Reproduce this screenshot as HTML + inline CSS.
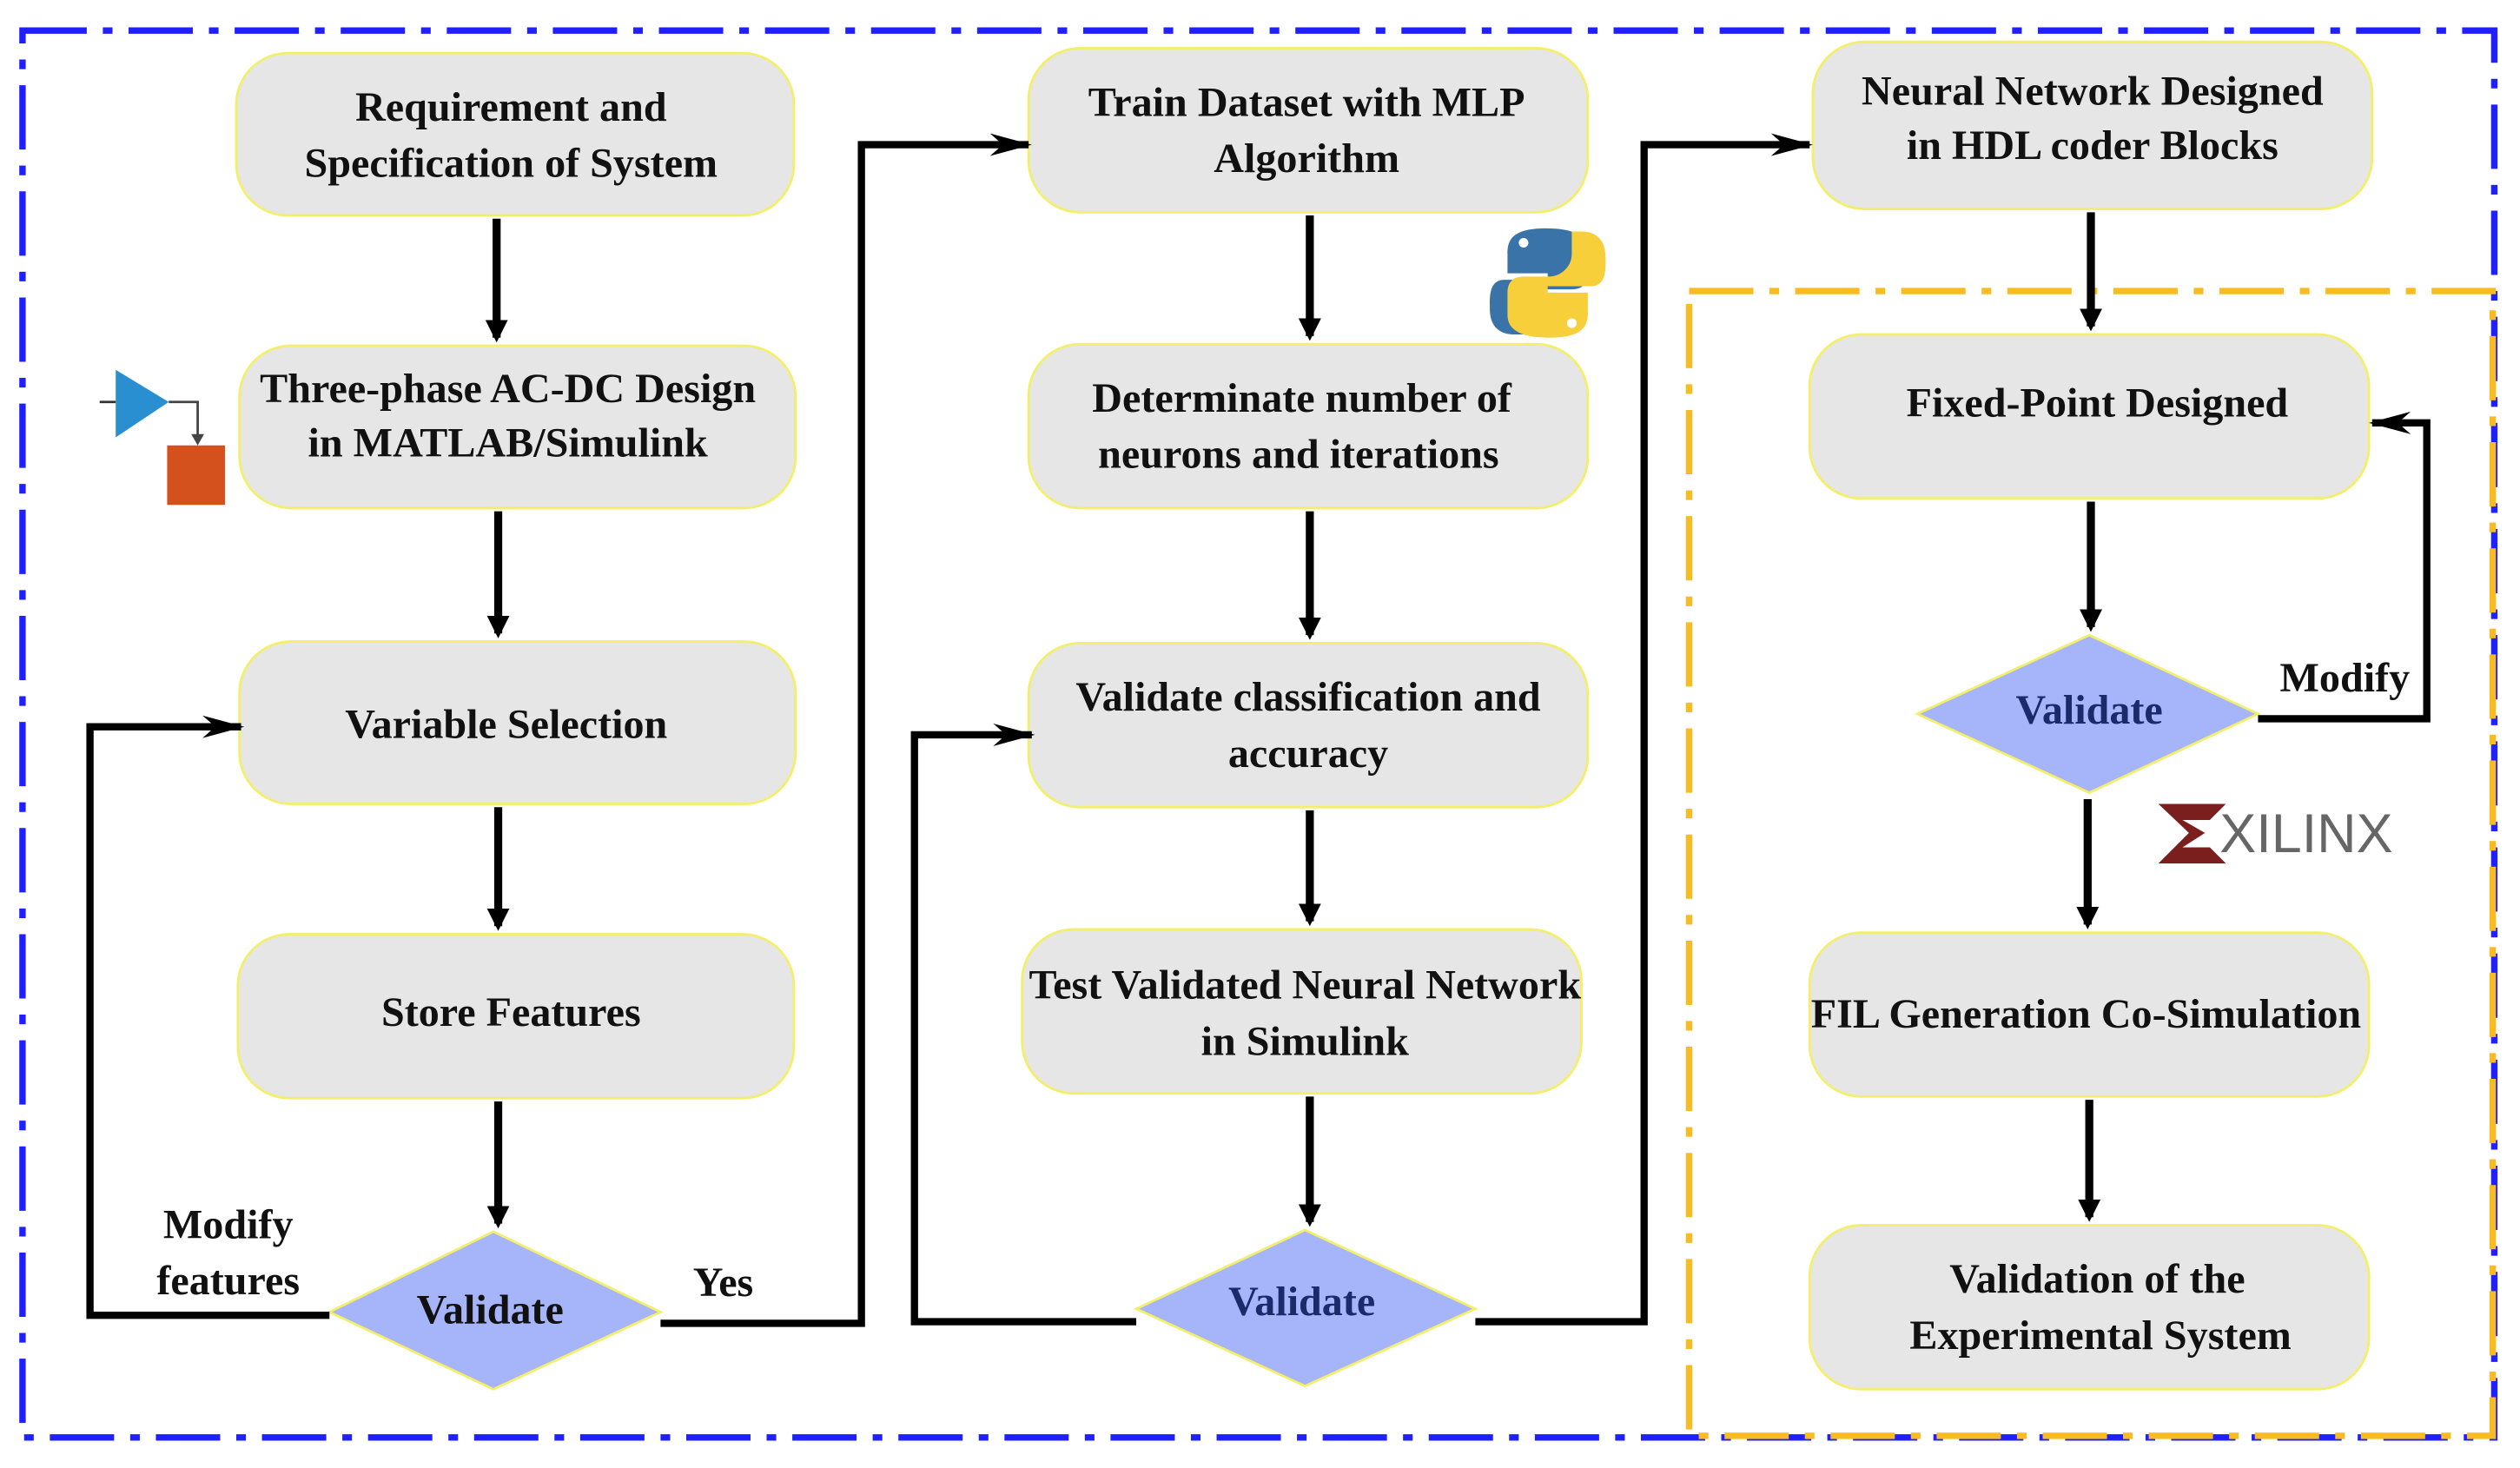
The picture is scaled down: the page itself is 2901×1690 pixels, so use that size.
<!DOCTYPE html>
<html><head><meta charset="utf-8"><style>
html,body{margin:0;padding:0;background:#fff;}
svg{display:block;}
text{font-family:"Liberation Serif","Times New Roman",serif;font-weight:bold;font-size:26px;fill:#111;text-anchor:middle;}
</style></head><body>
<svg width="2901" height="1690" viewBox="0 0 1568 913" preserveAspectRatio="none" xmlns="http://www.w3.org/2000/svg">
<defs>
<marker id="ah" markerWidth="14" markerHeight="14" refX="11" refY="7" orient="auto" markerUnits="userSpaceOnUse">
<path d="M0,0 L14,7 L0,14 z" fill="#000"/></marker>
<marker id="ah2" markerWidth="26" markerHeight="14" refX="24" refY="7" orient="auto" markerUnits="userSpaceOnUse">
<path d="M0,0 L26,7 L0,14 L8,7 z" fill="#000"/></marker>
</defs>
<rect width="1568" height="913" fill="#fff"/>
<rect x="14" y="19" width="1538" height="875" fill="none" stroke="#1f1fff" stroke-width="4" stroke-dasharray="40,10,6,10"/>
<rect x="1051" y="181" width="500" height="712" fill="none" stroke="#f8bb22" stroke-width="4" stroke-dasharray="40,10,6,10"/>

<g fill="#e6e6e6" stroke="#f4ef6a" stroke-width="1.5">
<rect x="147" y="33" width="347" height="101" rx="32"/>
<rect x="149" y="215" width="346" height="101" rx="32"/>
<rect x="149" y="399" width="346" height="101" rx="32"/>
<rect x="148" y="581" width="346" height="102" rx="32"/>
<rect x="640" y="30" width="348" height="102" rx="32"/>
<rect x="640" y="214" width="348" height="102" rx="32"/>
<rect x="640" y="400" width="348" height="102" rx="32"/>
<rect x="636" y="578" width="348" height="102" rx="32"/>
<rect x="1128" y="26" width="348" height="104" rx="32"/>
<rect x="1126" y="208" width="348" height="102" rx="32"/>
<rect x="1126" y="580" width="348" height="102" rx="32"/>
<rect x="1126" y="762" width="348" height="102" rx="32"/>
</g>
<g fill="#a6b4fa" stroke="#f4ef6a" stroke-width="1.5">
<polygon points="205,816 307,766 411,816 307,864"/>
<polygon points="707,814 812,765 918,814 812,862"/>
<polygon points="1193,444 1300,395 1405,444 1300,493"/>
</g>

<g stroke="#000" stroke-width="5" marker-end="url(#ah)">
<line x1="309" y1="136" x2="309" y2="210"/>
<line x1="310" y1="318" x2="310" y2="394"/>
<line x1="310" y1="502" x2="310" y2="576"/>
<line x1="310" y1="685" x2="310" y2="761"/>
<line x1="815" y1="134" x2="815" y2="209"/>
<line x1="815" y1="318" x2="815" y2="395"/>
<line x1="815" y1="504" x2="815" y2="573"/>
<line x1="815" y1="682" x2="815" y2="760"/>
<line x1="1301" y1="132" x2="1301" y2="203"/>
<line x1="1301" y1="312" x2="1301" y2="390"/>
<line x1="1299" y1="497" x2="1299" y2="575"/>
<line x1="1300" y1="684" x2="1300" y2="757"/>
</g>
<g stroke="#000" stroke-width="4.5" fill="none" marker-end="url(#ah2)">
<polyline points="205,818 56,818 56,452 150,452"/>
<polyline points="411,823 536,823 536,90 640,90"/>
<polyline points="707,822 569,822 569,457 642,457"/>
<polyline points="918,822 1023,822 1023,90 1126,90"/>
<polyline points="1405,447 1510,447 1510,263 1476,263"/>
</g>

<text x="318" y="75">Requirement and</text>
<text x="318" y="110">Specification of System</text>
<text x="316" y="250">Three-phase AC-DC Design</text>
<text x="316" y="284">in MATLAB/Simulink</text>
<text x="315" y="459">Variable Selection</text>
<text x="318" y="638">Store Features</text>
<text x="305" y="823">Validate</text>
<text x="142" y="770">Modify</text>
<text x="142" y="805">features</text>
<text x="450" y="806">Yes</text>
<text x="813" y="72">Train Dataset with MLP</text>
<text x="813" y="107">Algorithm</text>
<text x="810" y="256">Determinate number of</text>
<text x="808" y="291">neurons and iterations</text>
<text x="814" y="442">Validate classification and</text>
<text x="814" y="477">accuracy</text>
<text x="812" y="621">Test Validated Neural Network</text>
<text x="812" y="656">in Simulink</text>
<text x="810" y="818" style="fill:#1a2a6a">Validate</text>
<text x="1302" y="65">Neural Network Designed</text>
<text x="1302" y="99">in HDL coder Blocks</text>
<text x="1305" y="259">Fixed-Point Designed</text>
<text x="1300" y="450" style="fill:#1a2a6a">Validate</text>
<text x="1459" y="430">Modify</text>
<text x="1298" y="639">FIL Generation Co-Simulation</text>
<text x="1305" y="804">Validation of the</text>
<text x="1307" y="839">Experimental System</text>

<line x1="62" y1="250" x2="72" y2="250" stroke="#333" stroke-width="1.5"/>
<polygon points="72,230 72,272 105,250" fill="#2a8fd0"/>
<polyline points="105,250 123,250 123,273" stroke="#444" stroke-width="1.5" fill="none"/>
<polygon points="119,270 127,270 123,277" fill="#444"/>
<rect x="104" y="277" width="36" height="37" fill="#d4501c"/>
<g>
<path d="M962,142 C940,142 938,150 938,158 L938,170 L963,170 L963,174 L936,174 C926,174 927,186 927,192 C927,204 934,208 942,208 L948,208 L948,194 C948,186 955,180 962,180 L978,180 C985,180 988,176 988,170 L988,156 C988,146 978,142 962,142 z" fill="#3a73a8"/>
<path d="M964,210 C986,210 988,202 988,194 L988,182 L963,182 L963,178 L990,178 C1000,178 999,166 999,160 C999,148 992,144 984,144 L978,144 L978,158 C978,166 971,172 964,172 L948,172 C941,172 938,176 938,182 L938,196 C938,206 948,210 964,210 z" fill="#f7cf3b"/>
<circle cx="948" cy="151" r="3" fill="#fff"/>
<circle cx="978" cy="201" r="3" fill="#fff"/>
</g>
<polygon points="1343,500 1385,500 1375,510 1358,510 1372,518 1358,527 1375,527 1385,537 1343,537 1362,518" fill="#7b1e1e"/>
<text x="1435" y="530" style="font-family:'Liberation Sans',sans-serif;font-weight:normal;font-size:34px;fill:#666">XILINX</text>
</svg>
</body></html>
